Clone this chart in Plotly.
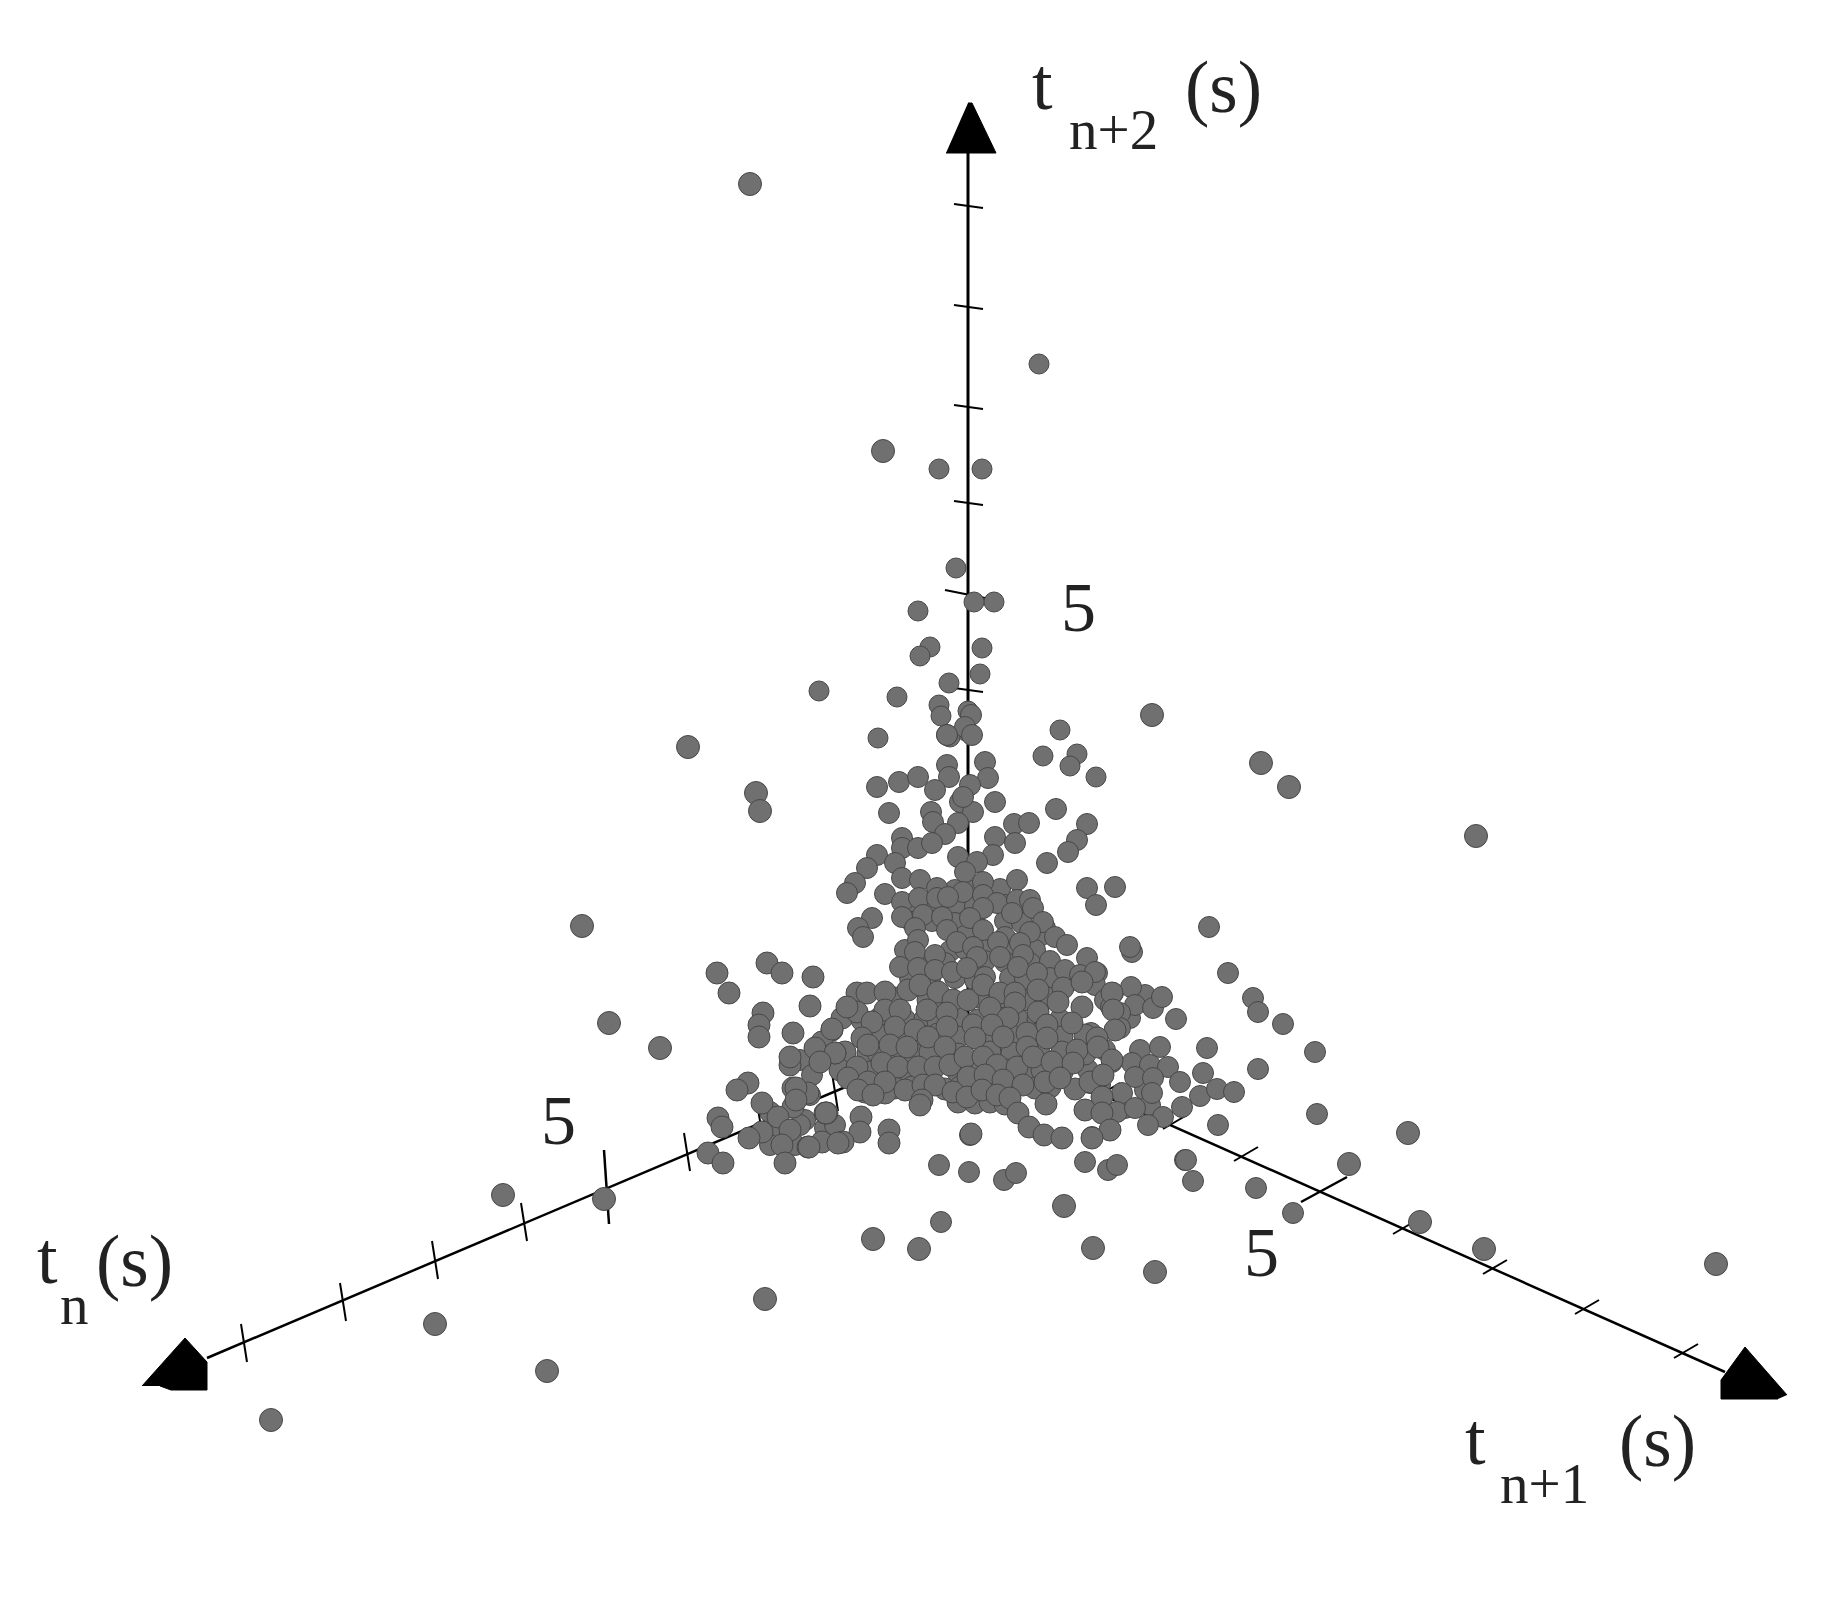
import plotly.graph_objects as go

# Spots (screen position of each projected point)
outer_x = [750,883,688,756,760,1261,1289,1476,582,609,660,503,604,435,547,271,765,1716,1408,1420,1484,1349,873,919,1155,1093,1064,1152]
outer_y = [184,451,747,793,811,763,787,836,926,1023,1048,1195,1199,1324,1371,1420,1299,1264,1133,1222,1249,1164,1239,1249,1272,1248,1206,715]

top_x = [1039,939,982,956,994,974,918,930,920,982,980,949,819,897,939,941,968,966,950,1060,878,1043,1077,1070,1096]
top_y = [364,469,469,568,602,602,611,647,656,648,674,683,691,697,705,716,711,731,737,730,738,756,754,766,777]

cloud_upper_x = [947,971,965,947,972,947,949,985,988,877,899,918,935,970,960,995,973,963,958,889,1056,931,933,1014,1029,1087,945,902,902,918,932,995,1015,1077,1068,877,993,958,977,1047,895,867,855,847,965,902,920,983,1017,937,963,885,983,1087,1096,1115,902,919,937,948,997,1017,1030,983,1033,1012,872,902,923,942,970,1043,858,863,915,947,983,1030,1055,1067,918,957,973,998,1020,915,935,1000,1023,977,1087,900,918,935,952,967,1018,1037,1065,1080,1097,985]
cloud_upper_y = [735,715,727,735,735,765,777,762,778,787,782,777,790,785,802,802,812,797,823,813,809,812,822,824,823,824,834,838,848,848,843,837,843,840,852,855,855,857,862,863,863,868,883,893,872,878,880,882,880,888,892,894,895,888,905,887,902,898,898,897,903,900,900,908,908,913,918,917,915,917,918,922,928,937,928,930,930,932,937,945,940,942,947,942,943,952,955,957,955,957,958,967,968,970,972,968,967,973,970,975,973,977]

cloud_middle_x = [857,867,885,908,920,938,953,968,983,1000,1015,1015,1038,1063,1082,1112,857,847,885,900,927,947,990,1008,1038,1058,1082,1113,832,872,895,915,947,973,992,1027,1047,1072,1115,822,862,868,890,907,928,945,975,1003,1027,1047,1077,1097,1098,835,857,882,898,918,935,950,965,983,997,1017,1033,1052,1073,1112]
cloud_middle_y = [993,993,992,990,985,992,1000,1000,985,993,993,1003,990,988,982,993,1012,1007,1010,1010,1010,1013,1008,1018,1012,1002,1007,1010,1030,1022,1027,1030,1027,1025,1025,1033,1025,1023,1030,1042,1038,1045,1045,1047,1037,1047,1038,1037,1047,1038,1050,1038,1047,1053,1067,1063,1067,1067,1067,1065,1057,1057,1065,1067,1057,1062,1063,1060]

cloud_lower_x = [848,868,885,905,923,935,968,985,1003,1023,1045,1060,1090,1103,858,873,922,953,967,982,997,1010,1102,920,1046,1018,1029,1044,1062,971,1085,1102,1110,1092,827,861,860,889,889,843,717,729,767,782,813,810,763,759,759,793,832,815,835,790,790,820,748,737,762,793,808,793,778,718,722,825,762,749,790,782,808,822,838,708,723,785,809,826,796,796]
cloud_lower_y = [1078,1082,1082,1090,1085,1085,1077,1075,1080,1085,1082,1078,1082,1075,1090,1095,1100,1092,1097,1090,1095,1098,1097,1105,1104,1113,1127,1135,1138,1134,1110,1113,1130,1138,1113,1117,1132,1130,1143,1142,973,993,963,973,977,1006,1013,1025,1037,1033,1029,1048,1053,1065,1057,1062,1083,1090,1103,1088,1093,1107,1117,1118,1127,1113,1132,1138,1130,1145,1147,1142,1143,1153,1163,1163,1147,1113,1088,1100]

cloud_right_x = [1132,1228,1253,1258,1283,1315,1258,1317,1095,1113,1131,1135,1153,1162,1120,1120,1176,1111,1207,1091,1098,1083,1112,1088,1103,1090,1140,1160,1132,1150,1168,1135,1153,1180,1203,1152,1122,1102,1200,1217,1234,1085,1117,1135,1182,1163,1148,1110,1092,1218,939,969,1004,1016,1085,1108,1117,1185,1193,1256,1293,941,970,1209,1130,1186]
cloud_right_y = [952,973,998,1012,1024,1052,1069,1114,972,993,987,1005,1008,997,1013,1028,1019,1007,1048,1033,1047,1057,1062,1070,1075,1083,1050,1047,1063,1065,1067,1077,1078,1082,1073,1093,1093,1097,1096,1089,1092,1110,1112,1108,1107,1117,1125,1130,1137,1125,1165,1172,1180,1173,1162,1170,1165,1160,1181,1188,1213,1222,1135,927,947,1160]

# Tightly packed core of the cloud, where spots overlap
core_a_x = [895,928,943,978,1003,1028,1048,842,862,880,905,925,938,958,978,1000,1020,1038,1060,880,900,922,938,958,985,1012,1038,1062,1085,845,868,878,898,915,930,958,990,1012,1040,1062,1085]
core_a_y = [998,1000,999,997,998,1000,998,1018,1020,1018,1020,1019,1021,1018,1020,1018,1021,1019,1020,1035,1037,1036,1034,1037,1035,1036,1034,1037,1035,1052,1054,1053,1052,1055,1052,1054,1052,1053,1055,1052,1054]
core_b_x = [840,870,888,908,925,958,978,990,1008,1027,1042,1062,860,878,895,912,945,960,975,993,1012,1035,1050,1075,865,885,958,975,990,1005]
core_b_y = [1070,1072,1070,1073,1071,1072,1070,1072,1070,1072,1070,1072,1087,1089,1088,1087,1089,1087,1089,1088,1087,1088,1087,1089,1092,1093,1102,1103,1102,1104]
shoulder_x = [955,972,1000,910,928,955,975,1005,1025,912,932,955,975,1005,1022,1045,965,1005,1040,905,950,965,985,1010,1035,925,945,985,1005,1030,1050,910,930,955,975,1010,1025,1050,1072]
shoulder_y = [890,891,889,905,906,904,906,905,904,922,921,923,922,921,923,928,936,937,936,950,951,949,950,951,950,962,963,961,962,963,961,978,979,978,980,978,979,978,980]
flank_x = [800,812,810,805,825,835,775,795,800,770,770,1100,1105,1145,1125,1150,1095,1105,1145,1130]
flank_y = [1060,1075,1095,1120,1128,1125,1130,1145,1125,1145,1112,1085,1050,1090,1108,1105,985,1000,995,1018]

# Axis geometry
axis_vert_x = [968, 968]
axis_vert_y = [153, 1035]
axis_left_x = [968, 207]
axis_left_y = [1035, 1358]
axis_right_x = [968, 1725]
axis_right_y = [1035, 1372]

left_tick_x = [244,343,435,524,687,760,835]
left_tick_y = [1343,1302,1260,1222,1152,1121,1092]
left_big_x = [604,609]
left_big_y = [1150,1224]

right_tick_x = [1686,1587,1495,1405,1246,1175,1108]
right_tick_y = [1351,1307,1267,1227,1154,1122,1090]
right_big_x = [1347,1301]
right_big_y = [1177,1202]

vert_tick_y = [206,307,407,503,690]
vert_big_x = [945,995]
vert_big_y = [590,600]

arrow_top_x = [968,972,996,946]
arrow_top_y = [103,103,153,153]
arrow_left_x = [142,185,207,207,171,160]
arrow_left_y = [1386,1338,1362,1390,1390,1386]
arrow_right_x = [1787,1745,1721,1721,1778]
arrow_right_y = [1395,1347,1380,1399,1399]

INK = "#000000"
labels = [
    ("t", 1042, 84, 74), ("n+2", 1113, 129, 57), ("(s)", 1223, 87, 73),
    ("t", 47, 1258, 74), ("n", 74, 1304, 57), ("(s)", 134, 1261, 73),
    ("t", 1475, 1439, 74), ("n+1", 1544, 1483, 57), ("(s)", 1657, 1441, 73),
    ("5", 1078, 607, 70), ("5", 558, 1120, 70), ("5", 1261, 1252, 70),
]

fig = go.Figure()

def line(xs, ys, width=2):
    fig.add_trace(go.Scatter(x=xs, y=ys, mode="lines", line=dict(color=INK, width=width), hoverinfo="skip"))

line(axis_vert_x, axis_vert_y, 3)
line(axis_left_x, axis_left_y, 2.5)
line(axis_right_x, axis_right_y, 2.5)

for x, y in zip(left_tick_x, left_tick_y):
    line([x - 3, x + 3], [y - 19, y + 19], 2)
line(left_big_x, left_big_y, 2.5)
for x, y in zip(right_tick_x, right_tick_y):
    line([x + 12, x - 12], [y - 7, y + 7], 2)
line(right_big_x, right_big_y, 2.5)
for y in vert_tick_y:
    line([954, 983], [y - 2, y + 2], 2)
line(vert_big_x, vert_big_y, 2)

for xs, ys in ((arrow_top_x, arrow_top_y), (arrow_left_x, arrow_left_y), (arrow_right_x, arrow_right_y)):
    fig.add_trace(go.Scatter(x=xs, y=ys, mode="lines", fill="toself", fillcolor=INK,
                             line=dict(color=INK, width=1), hoverinfo="skip"))

def spots(xs, ys, size):
    fig.add_trace(go.Scatter(x=xs, y=ys, mode="markers", hoverinfo="skip",
                             marker=dict(symbol="circle", size=size, color="#707070",
                                         line=dict(color="#484848", width=1))))

spots(top_x, top_y, 20)
spots(shoulder_x, shoulder_y, 21)
spots(cloud_upper_x, cloud_upper_y, 21)
spots(flank_x, flank_y, 21)
spots(cloud_right_x, cloud_right_y, 21)
spots(core_a_x, core_a_y, 22)
spots(core_b_x, core_b_y, 22)
spots(cloud_middle_x, cloud_middle_y, 22)
spots(cloud_lower_x, cloud_lower_y, 22)
spots(outer_x, outer_y, 23)

for text, x, y, size in labels:
    fig.add_annotation(x=x, y=y, text=text, showarrow=False, xanchor="center", yanchor="middle",
                       font=dict(family="Liberation Serif", size=size, color="#222222"))

fig.update_layout(
    width=1834, height=1600, margin=dict(l=0, r=0, t=0, b=0),
    paper_bgcolor="white", plot_bgcolor="white", showlegend=False,
    xaxis=dict(range=[0, 1834], visible=False),
    yaxis=dict(range=[1600, 0], visible=False),
)
fig.write_html("out.html", config=dict(displayModeBar=False),
               post_script="document.body.style.margin='0';")
